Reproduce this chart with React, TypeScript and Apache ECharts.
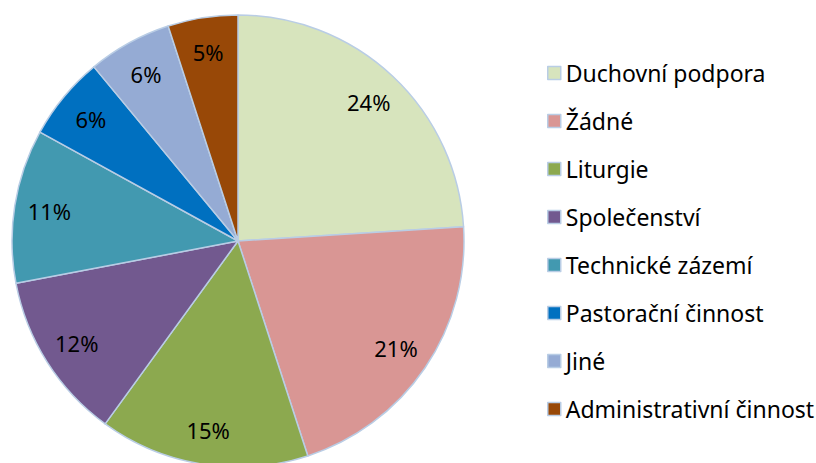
import React, { useEffect, useRef } from "react";
import * as echarts from "echarts";

const categories = [
  "Duchovní podpora",
  "Žádné",
  "Liturgie",
  "Společenství",
  "Technické zázemí",
  "Pastorační činnost",
  "Jiné",
  "Administrativní činnost",
];
const values = [24, 21, 15, 12, 11, 6, 6, 5];
const colors = [
  "#D7E4BD",
  "#D99694",
  "#8CA94F",
  "#72598F",
  "#4299B0",
  "#0070C0",
  "#95ABD4",
  "#984807",
];

const FONT = "Noto Sans";

export default function App() {
  const ref = useRef<HTMLDivElement>(null);
  useEffect(() => {
    if (!ref.current) return;
    const chart = echarts.init(ref.current, null, { renderer: "svg" });
    const data = categories.map((name, i) => ({
      name,
      value: values[i],
      itemStyle: { color: colors[i] },
    }));
    chart.setOption({
      animation: false,
      backgroundColor: "#ffffff",
      legend: {
        orient: "vertical",
        left: 542,
        top: 55,
        itemWidth: 13,
        itemHeight: 13,
        itemGap: 22,
        icon: "rect",
        data: categories,
        textStyle: {
          fontFamily: FONT,
          fontSize: 23,
          color: "#000",
          lineHeight: 26,
          padding: [0, 0, 0, 0],
        },
        itemStyle: { borderColor: "#B9CDE5", borderWidth: 1.5 },
      },
      series: [
        {
          type: "pie",
          center: [238, 241],
          radius: 226,
          startAngle: 90,
          clockwise: true,
          label: { show: false },
          labelLine: { show: false },
          emphasis: { disabled: true },
          itemStyle: { borderColor: "#B9CDE5", borderWidth: 1.5 },
          data,
        },
        {
          type: "pie",
          center: [238, 241],
          radius: [150, 226],
          startAngle: 90,
          clockwise: true,
          silent: true,
          legendHoverLink: false,
          emphasis: { disabled: true },
          itemStyle: { color: "rgba(0,0,0,0)", borderWidth: 0 },
          label: {
            show: true,
            position: "inside",
            formatter: "{c}%",
            fontFamily: FONT,
            fontSize: 22,
            color: "#000",
          },
          labelLine: { show: false },
          data: categories.map((name, i) => ({ name: name + " ", value: values[i] })),
        },
      ],
    });
    return () => chart.dispose();
  }, []);
  return (
    <div
      ref={ref}
      style={{ position: "fixed", left: 0, top: 0, width: 816, height: 463 }}
    />
  );
}
